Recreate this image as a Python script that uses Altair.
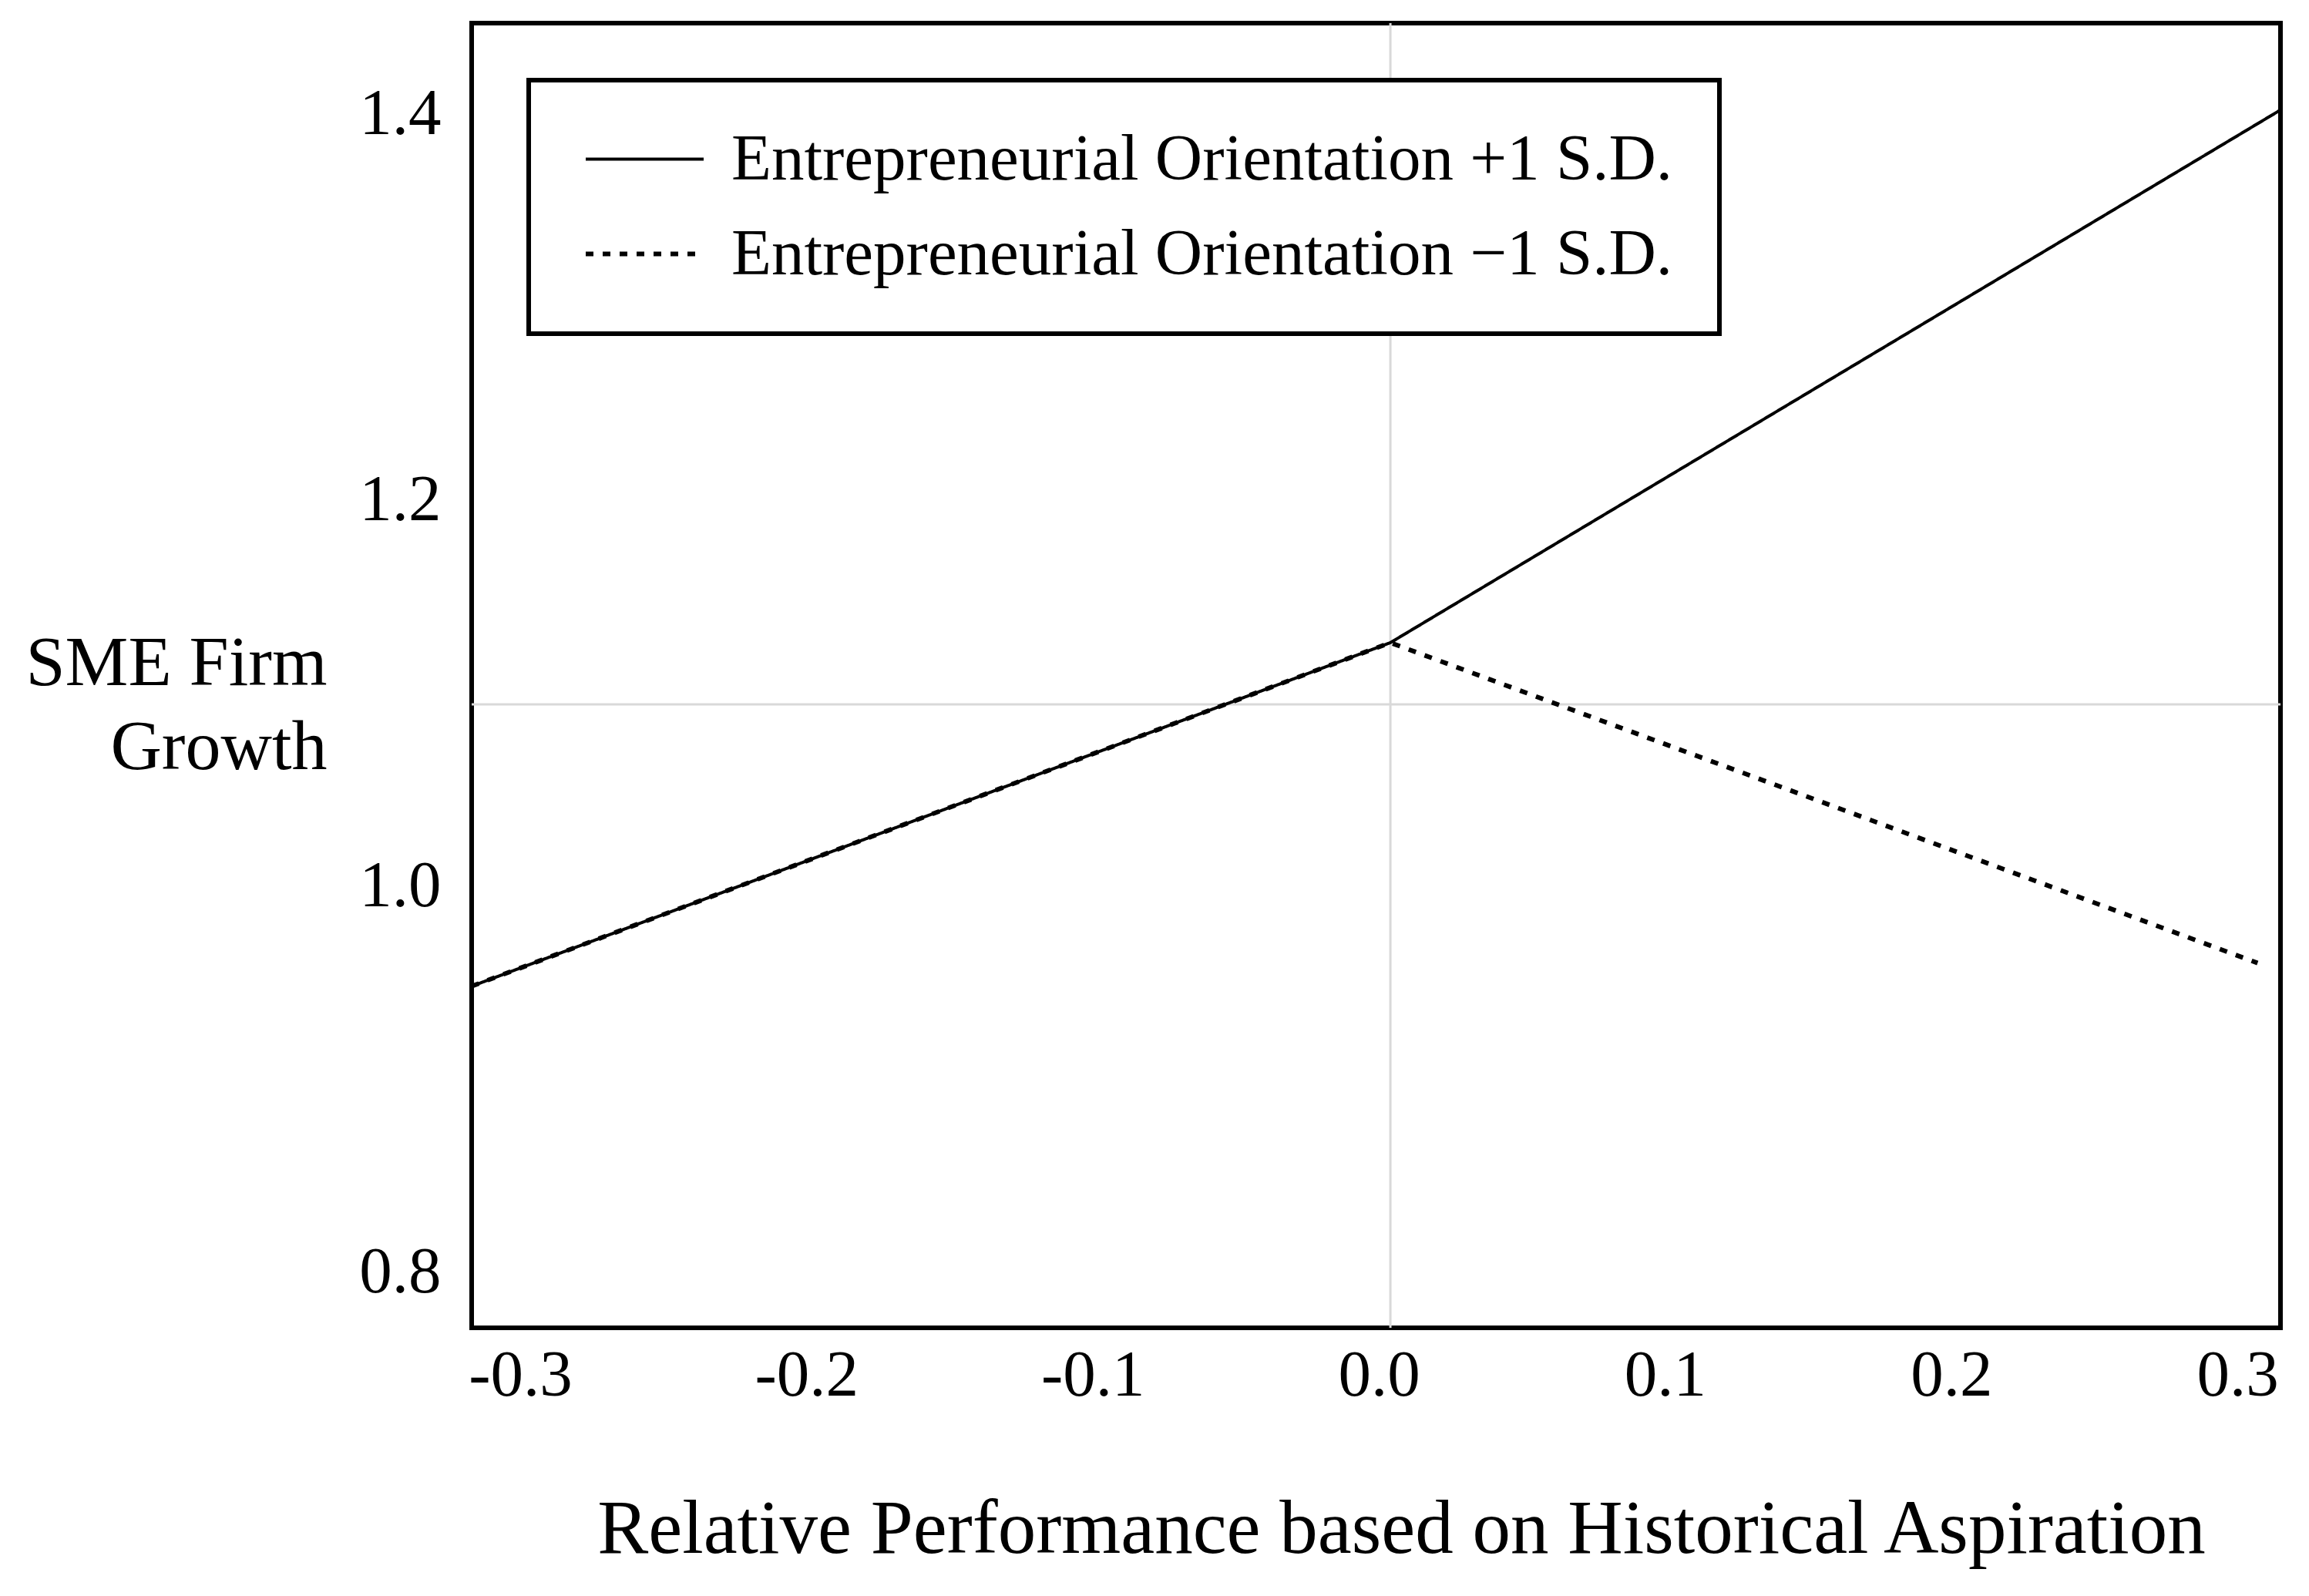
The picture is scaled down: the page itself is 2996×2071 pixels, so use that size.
import altair as alt
import pandas as pd

# ---- data ----
series_hi = "Entrepreneurial Orientation +1 S.D."
series_lo = "Entrepreneurial Orientation \u22121 S.D."

x_hi = [-0.321, 0.0, 0.311]
y_hi = [0.948, 1.126, 1.402]

x_lo = [-0.321, 0.0, 0.303]
y_lo = [0.948, 1.126, 0.960]

x_ticks = [-0.3, -0.2, -0.1, 0.0, 0.1, 0.2, 0.3]
y_ticks = [0.8, 1.0, 1.2, 1.4]

grid_x = [0.0]
grid_y = [1.094]

x_domain = [-0.321, 0.311]
y_domain = [0.771, 1.447]

FONT = "Liberation Serif"

rows = []
for xv, yv in zip(x_hi, y_hi):
    rows.append({"x": xv, "y": yv, "series": series_hi})
for xv, yv in zip(x_lo, y_lo):
    rows.append({"x": xv, "y": yv, "series": series_lo})
df = pd.DataFrame(rows)

xscale = alt.Scale(domain=x_domain, nice=False, zero=False)
yscale = alt.Scale(domain=y_domain, nice=False, zero=False)

vgrid = alt.Chart(pd.DataFrame({"gx": grid_x})).mark_rule(
    color="#d9d9d9", strokeWidth=3
).encode(x=alt.X("gx:Q", scale=xscale))

hgrid = alt.Chart(pd.DataFrame({"gy": grid_y})).mark_rule(
    color="#d9d9d9", strokeWidth=3
).encode(y=alt.Y("gy:Q", scale=yscale))

lines = alt.Chart(df).mark_line(color="black", clip=True).encode(
    x=alt.X(
        "x:Q",
        scale=xscale,
        axis=alt.Axis(
            values=x_ticks,
            labelExpr="datum.value < 0 ? '-' + format(-datum.value, '.1f') : format(datum.value, '.1f')",
            title="Relative Performance based on Historical Aspiration",
            grid=False,
            domain=False,
            ticks=False,
            tickSize=0,
            labelPadding=20,
            labelOffset=-15,
            labelFlush=False,
            labelOverlap=False,
            labelFont=FONT,
            labelFontSize=85,
            labelColor="black",
            titleFont=FONT,
            titleFontSize=99,
            titleFontWeight="normal",
            titleColor="black",
            titleX=1206,
            titleY=291,
            titleAlign="center",
            titleBaseline="alphabetic",
        ),
    ),
    y=alt.Y(
        "y:Q",
        scale=yscale,
        axis=alt.Axis(
            values=y_ticks,
            format=".1f",
            title=["SME Firm", "Growth"],
            grid=False,
            domain=False,
            ticks=False,
            tickSize=0,
            labelPadding=40,
            labelFlush=False,
            labelOverlap=False,
            labelFont=FONT,
            labelFontSize=85,
            labelColor="black",
            titleFont=FONT,
            titleFontSize=92,
            titleFontWeight="normal",
            titleColor="black",
            titleAngle=0,
            titleAlign="right",
            titleBaseline="alphabetic",
            titleX=-188,
            titleY=858,
            titleLineHeight=109,
        ),
    ),
    strokeDash=alt.StrokeDash(
        "series:N",
        scale=alt.Scale(domain=[series_hi, series_lo], range=[[1, 0], [10, 12]]),
        legend=alt.Legend(
            title=None,
            orient="none",
            legendX=74,
            legendY=74,
            padding=60,
            symbolType="M-4,0H4",
            symbolSize=1463,
            symbolOffset=48,
            symbolStrokeWidth=6,
            symbolStrokeColor="black",
            labelOffset=70,
            labelFont=FONT,
            labelFontSize=85,
            labelColor="black",
            labelLimit=0,
            rowPadding=37,
            strokeColor="black",
            fillColor="white",
        ),
    ),
    strokeWidth=alt.StrokeWidth(
        "series:N",
        scale=alt.Scale(domain=[series_hi, series_lo], range=[4, 6]),
        legend=None,
    ),
)

chart = (
    alt.layer(vgrid, hgrid, lines)
    .properties(
        width=2347,
        height=1693,
        autosize=alt.AutoSizeParams(type="none"),
        padding={"left": 604, "top": 22, "right": 20, "bottom": 330},
        background="white",
    )
    .configure_view(stroke="black", strokeWidth=6)
    .configure_legend(strokeWidth=6)
)

chart.save("out.html", embed_options={"renderer": "svg", "actions": False})
